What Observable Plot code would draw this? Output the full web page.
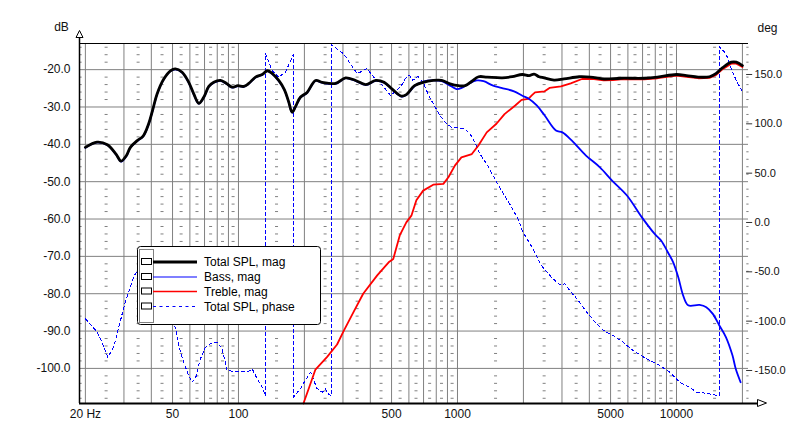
<!DOCTYPE html>
<html><head><meta charset="utf-8">
<script src="https://cdn.jsdelivr.net/npm/d3@7"></script>
<script src="https://cdn.jsdelivr.net/npm/@observablehq/plot@0.6"></script>
<style>
html,body{margin:0;padding:0;background:#fff;overflow:hidden;}
#chart{position:relative;width:786px;height:432px;overflow:hidden;}
</style></head><body><div id="chart"></div>
<script>
// ---------- data ----------
const totalFreq = [20, 22.6, 25.2, 27.6, 29.1, 30.8, 32.1, 34.5, 36.7, 38.9, 40.7, 42.5, 45.6, 48.9, 51.5, 55.3, 59.3, 62.5, 65.9, 69.4, 73.2, 77.1, 82.8, 88.2, 93.6, 99.3, 105.7, 111.4, 119.6, 128.3, 135.2, 142.4, 152.7, 162.2, 169.7, 175.8, 182.1, 191.7, 205.7, 224.8, 241.1, 277.4, 308.3, 342.7, 380.9, 423.3, 462.4, 505, 555, 584, 637, 697, 775, 847, 925, 1011, 1084, 1163, 1249, 1366, 1600, 1778, 1978, 2125, 2238, 2358, 2486, 2761, 3067, 3593, 4051, 4674, 5567, 7120, 8192, 10000, 11110, 12570, 14150, 15180, 16300, 17790, 18760, 20000];
const totalDb = [-40.8, -39.4, -40.1, -42.6, -44.5, -43.0, -40.8, -39.0, -37.8, -34.5, -30.5, -26.5, -22.5, -20.3, -19.8, -20.7, -23.4, -26.5, -29.0, -27.4, -24.5, -23.4, -22.9, -23.7, -24.7, -24.3, -24.5, -23.7, -22.0, -21.3, -20.3, -21.0, -22.9, -25.4, -28.7, -31.4, -29.9, -27.4, -26.1, -22.9, -23.4, -23.7, -22.2, -22.9, -24.0, -22.9, -23.4, -25.3, -27.1, -26.7, -24.3, -23.4, -22.9, -22.9, -23.8, -24.3, -24.3, -23.1, -21.9, -22.0, -22.2, -21.9, -21.3, -21.6, -21.2, -21.9, -22.2, -22.8, -22.5, -21.9, -22.0, -22.5, -22.3, -22.3, -22.0, -21.3, -21.6, -22.0, -21.9, -21.0, -19.4, -18.0, -18.0, -18.9];

const bassFreq = [20, 22.6, 25.2, 27.6, 29.1, 30.8, 32.1, 34.5, 36.7, 38.9, 40.7, 42.5, 45.6, 48.9, 51.5, 55.3, 59.3, 62.5, 65.9, 69.4, 73.2, 77.1, 82.8, 88.2, 93.6, 99.3, 105.7, 111.4, 119.6, 128.3, 135.2, 142.4, 152.7, 162.2, 169.7, 175.8, 182.1, 191.7, 205.7, 224.8, 241.1, 277.4, 308.3, 342.7, 380.9, 423.3, 462.4, 505, 555, 584, 637, 697, 775, 847, 909, 990, 1045, 1124, 1225, 1316, 1455, 1585, 1812, 1978, 2117, 2301, 2502, 2816, 3013, 3330, 3862, 4460, 5080, 5940, 6940, 7950, 8520, 9130, 9660, 10190, 10730, 11300, 12750, 13680, 14650, 15690, 16810, 18010, 18640, 19620];
const bassDb = [-40.9, -39.5, -40.2, -42.7, -44.6, -43.1, -40.9, -39.1, -37.9, -34.6, -30.6, -26.6, -22.6, -20.4, -19.9, -20.8, -23.5, -26.6, -29.1, -27.5, -24.6, -23.5, -23.0, -23.8, -24.8, -24.4, -24.6, -23.8, -22.1, -21.4, -20.4, -21.1, -23.0, -25.5, -28.8, -31.5, -30.0, -27.5, -26.2, -23.0, -23.5, -23.8, -22.3, -23.0, -24.1, -23.0, -23.5, -25.4, -27.2, -26.8, -24.4, -23.2, -22.9, -23.1, -24.0, -25.2, -24.9, -23.8, -22.9, -23.1, -24.3, -24.9, -25.8, -27.0, -27.8, -29.6, -32.3, -36.3, -36.8, -39.0, -43.0, -46.1, -49.7, -53.7, -59.5, -64.0, -65.8, -68.9, -71.6, -75.6, -80.5, -83.1, -83.0, -83.6, -85.4, -88.5, -91.6, -96.5, -100.1, -103.7];

const trebleFreq = [198, 210, 224.6, 254, 282, 302, 336, 371, 430, 485, 509, 545, 584, 616, 649, 697, 775, 862, 909, 973, 1042, 1163, 1246, 1360, 1506, 1640, 1835, 1962, 2108, 2183, 2260, 2500, 2631, 2968, 3290, 3700, 4115, 4650, 5130, 5567, 7120, 8192, 10000, 11110, 12570, 14150, 15180, 16300, 17790, 18760, 20000];
const trebleDb = [-109.4, -105.2, -100.3, -96.9, -93.6, -90.0, -84.8, -80.0, -75.1, -71.6, -70.7, -64.4, -60.9, -59.1, -55.0, -52.4, -50.8, -50.6, -48.8, -45.7, -43.5, -42.6, -40.3, -36.8, -34.5, -31.9, -29.6, -28.1, -27.8, -26.9, -26.1, -25.8, -24.9, -24.5, -23.7, -22.5, -22.5, -22.9, -22.8, -22.6, -22.6, -22.3, -21.6, -21.9, -22.3, -22.2, -21.4, -19.8, -18.4, -18.4, -19.3];

// phase wraps at +-180: each wrap is a pair of samples at the same frequency
const phaseFreq = [20, 21, 22.6, 23.8, 25.3, 26.9, 28.8, 30.4, 32.6, 33.8, 36, 40, 45, 50.6, 51.5, 53.4, 56.2, 59.2, 61.3, 63.6, 67, 70.7, 74.5, 79.9, 84.2, 88.8, 95.2, 102, 109.5, 115.5, 121.7, 128.3, 132.8, 132.8, 142.4, 152.7, 163.9, 178, 178, 191.7, 202, 213.6, 228, 241, 249.5, 258, 265.7, 265.7, 302, 348, 386, 415, 454, 494, 528, 555, 584, 604, 625, 660, 697, 733, 775, 831, 891, 937, 1004, 1076, 1140, 1200, 1264, 1358, 1453, 1585, 1730, 1888, 1990, 2212, 2417, 2684, 2930, 3090, 3258, 3561, 3893, 4255, 4650, 5130, 5705, 6345, 7300, 8390, 9320, 10360, 11510, 12350, 13710, 15500, 15717, 15717, 16840, 18040, 18900, 19900];
const phaseDeg = [-97.7, -102.7, -111, -121, -136.6, -126.5, -101, -80.8, -60.5, -52, -45, -40, -60, -104.5, -106, -124.7, -141.7, -155, -162, -158.5, -138.2, -126.5, -123, -121.4, -128, -150, -151, -151, -151.8, -148.4, -158.5, -167, -176, 171, 154, 147.3, 152.4, 170, -177, -168.7, -160, -151.8, -168, -172, -168.7, -174, -176, 180, 171, 150.8, 155.9, 147.3, 139, 128.8, 134, 139, 147.3, 149, 144, 148, 142, 130.5, 120.4, 108.5, 100.1, 96.7, 96, 95, 90, 81.4, 69.7, 59.5, 47.7, 32.5, 19, 3.8, -9.8, -26.7, -43.6, -55.5, -63.2, -62.2, -69, -79.1, -91, -101.1, -109.5, -114.6, -121.4, -129.8, -138.2, -145, -151.8, -162, -167, -172, -173.1, -175.5, -176, 178, 171, 152.4, 142.3, 133.9];

const dbTicks = [-20, -30, -40, -50, -60, -70, -80, -90, -100];
const phaseTicks = [150, 100, 50, 0, -50, -100, -150];
const freqTickValues = [20, 50, 100, 500, 1000, 5000, 10000];
const freqTickLabels = ["20 Hz", "50", "100", "500", "1000", "5000", "10000"];
const majorFreqGrid = [20, 30, 40, 50, 60, 70, 80, 90, 100, 200, 300, 400, 500, 600, 700, 800, 900, 1000, 2000, 3000, 4000, 5000, 6000, 7000, 8000, 9000, 10000, 20000];
const minorFreqGrid = [25, 35, 45, 55, 65, 75, 85, 95, 150, 250, 350, 450, 550, 650, 750, 850, 950, 1500, 2500, 3500, 4500, 5500, 6500, 7500, 8500, 9500, 15000];
const minorDbGrid = [-14, -16, -18, -22, -24, -26, -28, -32, -34, -36, -38, -42, -44, -46, -48, -52, -54, -56, -58, -62, -64, -66, -68, -72, -74, -76, -78, -82, -84, -86, -88, -92, -94, -96, -98, -102, -104, -106, -108];
const legendLabels = ["Total SPL, mag", "Bass, mag", "Treble, mag", "Total SPL, phase"];
const seriesColors = ["#000000", "#0000ff", "#ff0000", "#0000ff"];

// ---------- build ----------
const X_DOMAIN = [18.8, 21320];
const Y_DOMAIN = [-109.4, -13.0];
const phaseToDb = d3.scaleLinear().domain([0, 150]).range([-60.93, -21.30]);
const FONT = "'Liberation Sans', Arial, sans-serif";
const GRID = "#808080";

const zip = (fs, vs) => fs.map((f, i) => ({f, v: vs[i]}));
const total = zip(totalFreq, totalDb);
const bass = zip(bassFreq, bassDb);
const treble = zip(trebleFreq, trebleDb);
const phase = zip(phaseFreq, phaseDeg).map(d => ({f: d.f, v: phaseToDb(d.v)}));
const lattice = minorFreqGrid.flatMap(f => minorDbGrid.map(db => ({f, db})));

const plot = Plot.plot({
  width: 786, height: 432,
  marginLeft: 79, marginRight: 38, marginTop: 43, marginBottom: 29,
  style: {fontFamily: FONT, fontSize: "12px", background: "white", overflow: "visible"},
  x: {type: "log", domain: X_DOMAIN, axis: null},
  y: {domain: Y_DOMAIN, axis: null},
  marks: [
    // grid
    Plot.ruleY(lattice, {y: "db", x1: d => d.f / 1.016, x2: d => d.f * 1.016, stroke: GRID, strokeWidth: 1}),
    Plot.ruleY(minorDbGrid, {x1: X_DOMAIN[0], x2: X_DOMAIN[0] * 1.028, stroke: GRID}),
    Plot.ruleY(minorDbGrid, {x1: X_DOMAIN[1] / 1.018, x2: X_DOMAIN[1] * 1.006, stroke: GRID}),
    Plot.ruleX(majorFreqGrid, {y1: Y_DOMAIN[0], y2: Y_DOMAIN[1], stroke: GRID, strokeWidth: 1}),
    Plot.ruleY(dbTicks, {x1: X_DOMAIN[0], x2: X_DOMAIN[1], stroke: GRID, strokeWidth: 1}),
    // right axis ticks
    Plot.ruleY(phaseTicks.map(phaseToDb), {x1: X_DOMAIN[1] / 1.02, x2: X_DOMAIN[1] * 1.045, stroke: "#333"}),
    // frame
    Plot.ruleY([Y_DOMAIN[1]], {x1: X_DOMAIN[0], x2: X_DOMAIN[1], stroke: "#000"}),
    // curves
    Plot.line(phase, {x: "f", y: "v", stroke: seriesColors[3], strokeWidth: 1, strokeDasharray: "3,3", shapeRendering: "crispEdges"}),
    Plot.line(treble, {x: "f", y: "v", stroke: seriesColors[2], strokeWidth: 1.8}),
    Plot.line(bass, {x: "f", y: "v", stroke: seriesColors[1], strokeWidth: 1.8, curve: "catmull-rom"}),
    Plot.line(total, {x: "f", y: "v", stroke: seriesColors[0], strokeWidth: 2.8, curve: "catmull-rom"}),
    // axes lines
    Plot.ruleX([X_DOMAIN[0]], {y1: Y_DOMAIN[0], y2: -11.4, stroke: "#000", strokeWidth: 1.5}),
    Plot.ruleY([Y_DOMAIN[0]], {x1: X_DOMAIN[0], x2: 23437, stroke: "#000", strokeWidth: 2}),
    // labels
    Plot.text(dbTicks, {x: X_DOMAIN[0], y: d => d, text: d => d.toFixed(1), dx: -9, textAnchor: "end", fill: "#111", fontSize: 12}),
    Plot.text(phaseTicks, {x: X_DOMAIN[1], y: d => phaseToDb(d), text: d => d.toFixed(1), dx: 6, textAnchor: "start", fill: "#111", fontSize: 11}),
    Plot.text(freqTickValues, {x: d => d, y: Y_DOMAIN[0], text: (d, i) => freqTickLabels[i], dy: 11, textAnchor: "middle", fill: "#111", fontSize: 12}),
    Plot.text(["dB"], {frameAnchor: "top-left", dx: -18, dy: -21, textAnchor: "middle", fill: "#111", fontSize: 12}),
    Plot.text(["deg"], {frameAnchor: "top-right", dx: 9, dy: -20, textAnchor: "start", fill: "#111", fontSize: 12})
  ]
});
document.getElementById("chart").appendChild(plot);

// arrows and legend
const sx = plot.scale("x"), sy = plot.scale("y");
const svg = d3.select(plot);
const ax = Math.round(sx.apply(X_DOMAIN[0])) + 0.5;
svg.append("path").attr("d", `M${ax},30.5 L${ax - 3.5},37.5 L${ax + 3.5},37.5 Z`)
  .attr("fill", "white").attr("stroke", "#000").attr("stroke-width", 1);
const by = sy.apply(Y_DOMAIN[0]);
svg.append("path").attr("d", `M757.5,${by - 3.5} L766.5,${by} L757.5,${by + 3.5} Z`)
  .attr("fill", "white").attr("stroke", "#000").attr("stroke-width", 1);

const lg = svg.append("g").attr("font-family", FONT).attr("font-size", 12).attr("text-anchor", "start");
lg.append("rect").attr("x", 137.5).attr("y", 246.5).attr("width", 183).attr("height", 78).attr("rx", 3)
  .attr("fill", "white").attr("stroke", "#000");
lg.append("rect").attr("x", 139.5).attr("y", 249.5).attr("width", 14).attr("height", 73)
  .attr("fill", "none").attr("stroke", "#000").attr("stroke-dasharray", "1,1");
const rowY = [262, 277, 291.5, 306.5];
const widths = [3, 1.2, 1.5, 1];
legendLabels.forEach((lab, i) => {
  const cy = rowY[i];
  lg.append("rect").attr("x", 141.5).attr("y", cy - 3.5).attr("width", 10).attr("height", 6)
    .attr("fill", "white").attr("stroke", "#000");
  lg.append("line").attr("x1", 153).attr("x2", 197).attr("y1", cy).attr("y2", cy)
    .attr("stroke", seriesColors[i]).attr("stroke-width", widths[i])
    .attr("stroke-dasharray", i === 3 ? "3,3.5" : null);
  lg.append("text").attr("x", 204).attr("y", cy).attr("dy", "0.35em").attr("text-anchor", "start")
    .attr("fill", "#000").text(lab);
});
</script></body></html>
